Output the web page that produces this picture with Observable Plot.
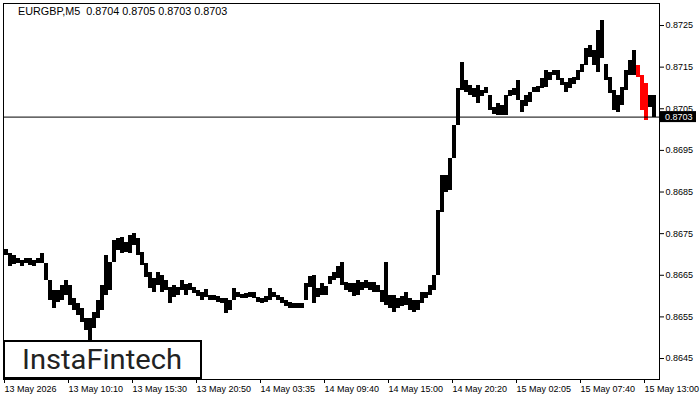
<!DOCTYPE html>
<html><head><meta charset="utf-8">
<script src="https://cdn.jsdelivr.net/npm/d3@7"></script>
<script src="https://cdn.jsdelivr.net/npm/@observablehq/plot@0.6"></script>
<style>body{margin:0;background:#fff} #chart{width:700px;height:400px}</style>
</head><body><div id="chart"></div>
<script>
const symbol = "EURGBP,M5";
const lastOHLC = [0.8704, 0.8705, 0.8703, 0.8703];
const currentPrice = 0.8703;
const highs = [0.86712,0.86703,0.86698,0.86691,0.86686,0.86691,0.86691,0.86686,0.86691,0.86703,
0.86679,0.86638,0.86614,0.86614,0.86626,0.86638,0.86626,0.86595,0.86583,0.86571,
0.86547,0.86547,0.86561,0.86590,0.86626,0.86698,0.86681,0.86734,0.86739,0.86741,
0.86729,0.86746,0.86751,0.86739,0.86705,0.86679,0.86657,0.86643,0.86657,0.86650,
0.86638,0.86621,0.86626,0.86621,0.86638,0.86628,0.86631,0.86621,0.86614,0.86609,
0.86616,0.86602,0.86602,0.86600,0.86595,0.86595,0.86590,0.86619,0.86609,0.86604,
0.86607,0.86609,0.86609,0.86597,0.86595,0.86600,0.86619,0.86609,0.86602,0.86597,
0.86590,0.86585,0.86583,0.86583,0.86583,0.86631,0.86648,0.86650,0.86619,0.86631,
0.86624,0.86648,0.86657,0.86672,0.86681,0.86633,0.86631,0.86631,0.86638,0.86633,
0.86638,0.86633,0.86633,0.86626,0.86614,0.86681,0.86602,0.86602,0.86595,0.86600,
0.86609,0.86595,0.86590,0.86590,0.86609,0.86609,0.86626,0.86650,0.86806,0.86890,
0.86890,0.86931,0.87010,0.87099,0.87161,0.87118,0.87106,0.87099,0.87106,0.87094,
0.87101,0.87082,0.87053,0.87063,0.87058,0.87082,0.87094,0.87099,0.87118,0.87070,
0.87082,0.87089,0.87101,0.87104,0.87123,0.87142,0.87137,0.87142,0.87142,0.87123,
0.87113,0.87123,0.87125,0.87142,0.87156,0.87195,0.87202,0.87190,0.87238,0.87262,
0.87156,0.87125,0.87094,0.87082,0.87101,0.87142,0.87166,0.87190,0.87154,0.87130,
0.87111,0.87082,0.87082];
const lows = [0.86698,0.86672,0.86676,0.86679,0.86672,0.86679,0.86674,0.86672,0.86679,0.86679,
0.86638,0.86590,0.86571,0.86585,0.86590,0.86602,0.86578,0.86566,0.86554,0.86537,
0.86518,0.86494,0.86523,0.86547,0.86566,0.86602,0.86614,0.86681,0.86710,0.86703,
0.86705,0.86703,0.86722,0.86698,0.86674,0.86645,0.86619,0.86609,0.86626,0.86609,
0.86614,0.86583,0.86597,0.86602,0.86614,0.86602,0.86614,0.86607,0.86600,0.86590,
0.86597,0.86590,0.86590,0.86585,0.86583,0.86559,0.86566,0.86590,0.86597,0.86595,
0.86595,0.86597,0.86595,0.86585,0.86583,0.86585,0.86590,0.86597,0.86590,0.86583,
0.86576,0.86571,0.86571,0.86571,0.86571,0.86590,0.86621,0.86583,0.86597,0.86602,
0.86602,0.86628,0.86638,0.86643,0.86626,0.86614,0.86609,0.86600,0.86602,0.86614,
0.86619,0.86614,0.86609,0.86609,0.86585,0.86578,0.86571,0.86561,0.86571,0.86576,
0.86578,0.86566,0.86561,0.86566,0.86583,0.86595,0.86602,0.86614,0.86650,0.86801,
0.86849,0.86854,0.86931,0.87010,0.87094,0.87089,0.87082,0.87077,0.87063,0.87080,
0.87087,0.87046,0.87036,0.87034,0.87034,0.87034,0.87080,0.87082,0.87070,0.87041,
0.87056,0.87065,0.87089,0.87089,0.87099,0.87101,0.87118,0.87130,0.87118,0.87106,
0.87089,0.87099,0.87108,0.87118,0.87137,0.87154,0.87173,0.87154,0.87137,0.87171,
0.87118,0.87087,0.87046,0.87041,0.87058,0.87094,0.87130,0.87130,0.87125,0.87046,
0.87022,0.87053,0.87029];
const redBars = [158, 159, 160];
const barsPerColumn = 4;
const xTickBars = [0, 64, 128, 192, 256, 320, 384, 448, 512, 576, 640];
const xTickLabels = ["13 May 2026", "13 May 10:10", "13 May 15:30", "13 May 20:50", "14 May 03:35",
  "14 May 09:40", "14 May 15:00", "14 May 20:20", "15 May 02:05", "15 May 07:40", "15 May 13:00"];
const yTicks = [0.8645, 0.8655, 0.8665, 0.8675, 0.8685, 0.8695, 0.8705, 0.8715, 0.8725];
const logoText = "InstaFintech";

const bars = highs.map((h, i) => ({i, high: h, low: lows[i], red: redBars.includes(i)}));
const colX1 = d => d.i * barsPerColumn + 1;
const colX2 = d => d.i * barsPerColumn + 1 + barsPerColumn;

const chart = Plot.plot({
  width: 700, height: 400,
  marginLeft: 3, marginRight: 41, marginTop: 3, marginBottom: 21,
  style: {fontFamily: "Liberation Sans, Arial, sans-serif", fontSize: "9px", background: "#fff", color: "#000"},
  x: {domain: [0, 656], axis: null},
  y: {domain: [0.863996, 0.873029], axis: null},
  marks: [
    Plot.rect(bars.filter(d => !d.red), {x1: colX1, x2: colX2, y1: "low", y2: "high", fill: "#000", shapeRendering: "crispEdges"}),
    Plot.rect(bars.filter(d => d.red), {x1: colX1, x2: colX2, y1: "low", y2: "high", fill: "#ff0000", shapeRendering: "crispEdges"}),
    Plot.ruleY([currentPrice], {stroke: "#000"}),
    Plot.axisY({anchor: "right", ticks: yTicks, tickSize: 4, tickPadding: 2, tickFormat: d => d.toFixed(4)}),
    Plot.axisX({anchor: "bottom", ticks: xTickBars, tickSize: 4, tickPadding: 2,
      tickFormat: d => xTickLabels[xTickBars.indexOf(d)], textAnchor: "start", dx: 1}),
    Plot.frame({stroke: "#000"})
  ]
});

const svg = d3.select(chart);
const ys = chart.scale("y");
svg.append("text").attr("x", 18).attr("y", 15).attr("text-anchor", "start")
  .style("white-space", "pre").attr("font-size", "10.8px").attr("fill", "#000")
  .text(`${symbol}  ${lastOHLC.map(v => v.toFixed(4)).join(" ")}`);

const py = ys.apply(currentPrice);
svg.append("rect").attr("x", 660).attr("y", py - 5.5).attr("width", 36).attr("height", 11).attr("fill", "#000");
svg.append("text").attr("x", 665).attr("y", py).attr("dy", "0.35em").attr("fill", "#fff")
  .attr("text-anchor", "start").attr("font-size", "9px").text(currentPrice.toFixed(4));

svg.append("rect").attr("x", 4).attr("y", 341).attr("width", 197).attr("height", 37)
  .attr("fill", "#fff").attr("stroke", "#000").attr("stroke-width", 2);
svg.append("text").attr("x", 22).attr("y", 369).attr("font-family", "Roboto").attr("text-anchor", "start")
  .attr("font-size", "28px").attr("fill", "#222").attr("textLength", 160).attr("lengthAdjust", "spacingAndGlyphs")
  .text(logoText);

document.getElementById("chart").appendChild(chart);
</script>
</body></html>
